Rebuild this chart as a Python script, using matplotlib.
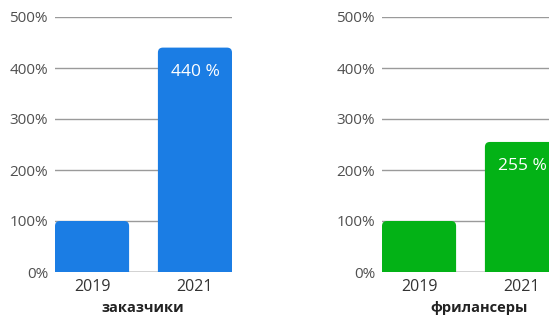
import matplotlib
matplotlib.use('Agg')
import matplotlib.pyplot as plt
from matplotlib.patches import FancyBboxPatch

plt.rcParams['font.family'] = ['Open Sans', 'DejaVu Sans']

years = ['2019', '2021']
clients = [100, 440]
freelancers = [100, 255]
labels_clients = ['', '440 %']
labels_freel = ['', '255 %']
yticks = [0, 100, 200, 300, 400, 500]
ytick_labels = ['0%', '100%', '200%', '300%', '400%', '500%']

BLUE = '#1b7de4'
GREEN = '#03b216'
W, H = 549, 318


def panel(ax, values, labels, color, xlabel, xlabel_x):
    ax.set_xlim(-0.36, 1.36)
    ax.set_ylim(0, 500)
    ax.set_yticks(yticks)
    ax.set_yticklabels(ytick_labels)
    ax.grid(axis='y', color='#9a9a9a', lw=1.0)
    ax.set_axisbelow(True)
    for s in ax.spines.values():
        s.set_visible(False)
    ax.axhline(0, color='#cfcfcf', lw=1.2, zorder=1)
    ax.tick_params(axis='y', length=0, pad=5, labelsize=11, labelcolor='#505050')
    ax.tick_params(axis='x', length=0, pad=5, labelsize=11.5, labelcolor='#333333')
    bars = ax.bar(range(len(values)), values, width=0.72, color=color, zorder=2)
    ax.set_xticks(range(len(values)))
    ax.set_xticklabels(years)

    # swap plain bars for ones with rounded tops
    ax_w = ax.get_position().width * W
    ax_h = ax.get_position().height * H
    xu = 1.72 / ax_w
    yu = 500 / ax_h
    r = 5 * xu
    for b in bars:
        b.set_visible(False)
        x0, w, h = b.get_x(), b.get_width(), b.get_height()
        p = FancyBboxPatch((x0 + r, -20 + r * yu / xu), w - 2 * r, h + 20 - 2 * r * yu / xu,
                           boxstyle=f'round,pad={r},rounding_size={r}',
                           mutation_aspect=yu / xu, fc=color, ec='none', zorder=2)
        ax.add_patch(p)
    for i, (v, t) in enumerate(zip(values, labels)):
        if t:
            ax.annotate(t, (i, v), xytext=(0, -17.5), textcoords='offset points',
                        ha='center', va='center', color='white', fontsize=12.5, zorder=3)
    fig.text(xlabel_x / W, 1 - 308 / H, xlabel, ha='center', va='center',
             fontsize=10.5, fontweight='bold', color='#222222')


fig = plt.figure(figsize=(W / 100, H / 100), dpi=100)
bottom = 46 / H
height = 255 / H
ax1 = fig.add_axes([55 / W, bottom, 177 / W, height])
ax2 = fig.add_axes([382 / W, bottom, 177 / W, height])
panel(ax1, clients, labels_clients, BLUE, 'заказчики', 143)
panel(ax2, freelancers, labels_freel, GREEN, 'фрилансеры', 479)

fig.savefig('out.png', dpi=100)
